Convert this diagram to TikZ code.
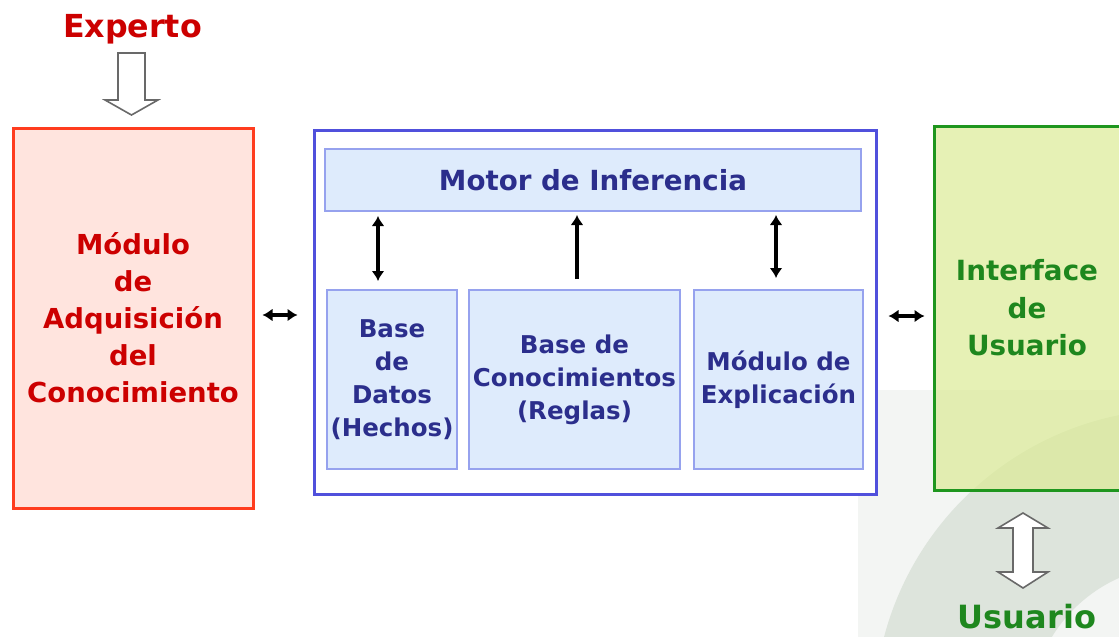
\documentclass[tikz,border=0pt]{standalone}
\usepackage{fontspec}
\setmainfont{DejaVu Sans}
\usepackage{tikz}
\usetikzlibrary{positioning}
\usetikzlibrary{calc}
\usetikzlibrary{arrows.meta}
\definecolor{redline}{RGB}{255,60,30}
\definecolor{redfill}{RGB}{255,228,222}
\definecolor{redtext}{RGB}{204,0,0}
\definecolor{blueline}{RGB}{80,80,220}
\definecolor{innerline}{RGB}{150,162,238}
\definecolor{innerfill}{RGB}{222,235,252}
\definecolor{bluetext}{RGB}{43,46,140}
\definecolor{greenline}{RGB}{30,150,30}
\definecolor{greenfill}{RGB}{220,235,150}
\definecolor{greentext}{RGB}{30,135,30}
\definecolor{bggrey}{RGB}{243,245,243}
\definecolor{bgring}{RGB}{221,228,220}
\pgfdeclarelayer{bglayer}
\pgfdeclarelayer{nodelayer}
\pgfdeclarelayer{edgelayer}
\pgfsetlayers{bglayer,nodelayer,edgelayer,main}
\tikzset{
    none/.style = {inner sep=0pt},
    redbox/.style = {draw=redline, fill=redfill, line width=3pt, text=redtext, align=center,
        font=\fontsize{27.5}{37}\selectfont\bfseries},
    bluebox/.style = {draw=blueline, fill=white, line width=3pt},
    innerbox/.style = {draw=innerline, fill=innerfill, line width=2pt, text=bluetext, align=center,
        font=\fontsize{24.5}{33}\selectfont\bfseries},
    greenbox/.style = {draw=greenline, fill=greenfill, fill opacity=0.7, text opacity=1,
        line width=3pt, text=greentext, align=center, font=\fontsize{27.8}{37.5}\selectfont\bfseries},
    redtitle/.style = {inner sep=0pt, text=redtext, font=\fontsize{31.7}{36}\selectfont\bfseries},
    greentitle/.style = {inner sep=0pt, text=greentext, font=\fontsize{32}{36}\selectfont\bfseries},
    flow/.style = {line width=3.5pt, >={Latex[length=10pt,width=13pt]}},
    hollow/.style = {draw={rgb,255:red,105;green,105;blue,105}, fill=white, line width=1.6pt, line join=miter}
}
\begin{document}
\begin{tikzpicture}[x=1pt, y=-1pt]
  \useasboundingbox (0, 0) rectangle (1119, 637);
  \begin{pgfonlayer}{bglayer}
    \begin{scope}
      \clip (0, 0) rectangle (1119, 637);
      \fill [bggrey] (858, 390) rectangle (1119, 637);
      \fill [bgring, even odd rule] (1180, 715) circle [radius=306pt] (1180, 715) circle [radius=150pt];
    \end{scope}
  \end{pgfonlayer}
  \begin{pgfonlayer}{nodelayer}
    \node [style=redbox, minimum width=240pt, minimum height=380pt] (0) at (133, 318) {Módulo\\de\\Adquisición\\del\\Conocimiento};
    \node [style=bluebox, minimum width=562pt, minimum height=364pt] (1) at (595, 312) {};
    \node [style=innerbox, minimum width=536pt, minimum height=62pt, font=\fontsize{27.7}{33}\selectfont\bfseries] (2) at (593, 180) {Motor de Inferencia};
    \node [style=innerbox, minimum width=128pt, minimum height=179pt] (3) at (392, 379.5) {Base\\de\\Datos\\(Hechos)};
    \node [style=innerbox, minimum width=211pt, minimum height=179pt] (4) at (574.5, 379.5) {Base de\\Conocimientos\\(Reglas)};
    \node [style=innerbox, minimum width=169pt, minimum height=179pt] (5) at (778.5, 379.5) {Módulo de\\Explicación};
    \node [style=greenbox, minimum width=186pt, minimum height=364pt] (6) at (1027, 308) {Interface\\de\\Usuario};
    \node [style=redtitle] (7) at (132.5, 29) {Experto};
    \node [style=greentitle] (8) at (1027, 617) {Usuario};
  \end{pgfonlayer}
  \begin{pgfonlayer}{edgelayer}
    \draw [style=flow, <->] ($(0.east)+(8,-3)$) to ($(1.west |- 0.east)+(-15,-3)$);
    \draw [style=flow, <->] ($(1.east |- 6.west)+(11,8)$) to ($(6.west)+(-8,8)$);
    \draw [style=flow, <->] ($(3.north)+(-14,-8)$) to ($(2.south -| 3.north)+(-14,4)$);
    \draw [style=flow, ->] ($(4.north)+(2.5,-10)$) to ($(2.south -| 4.north)+(2.5,3)$);
    \draw [style=flow, <->] ($(5.north)+(-2.5,-11)$) to ($(2.south -| 5.north)+(-2.5,3)$);
    \draw [style=hollow] (118, 53) -- (145, 53) -- (145, 100) -- (158, 100) -- (131.5, 115) -- (105, 100) -- (118, 100) -- cycle;
    \draw [style=hollow] (1023, 513) -- (1048, 528) -- (1033, 528) -- (1033, 572) -- (1048, 572) -- (1023, 588) -- (998, 572) -- (1013, 572) -- (1013, 528) -- (998, 528) -- cycle;
  \end{pgfonlayer}
\end{tikzpicture}
\end{document}
